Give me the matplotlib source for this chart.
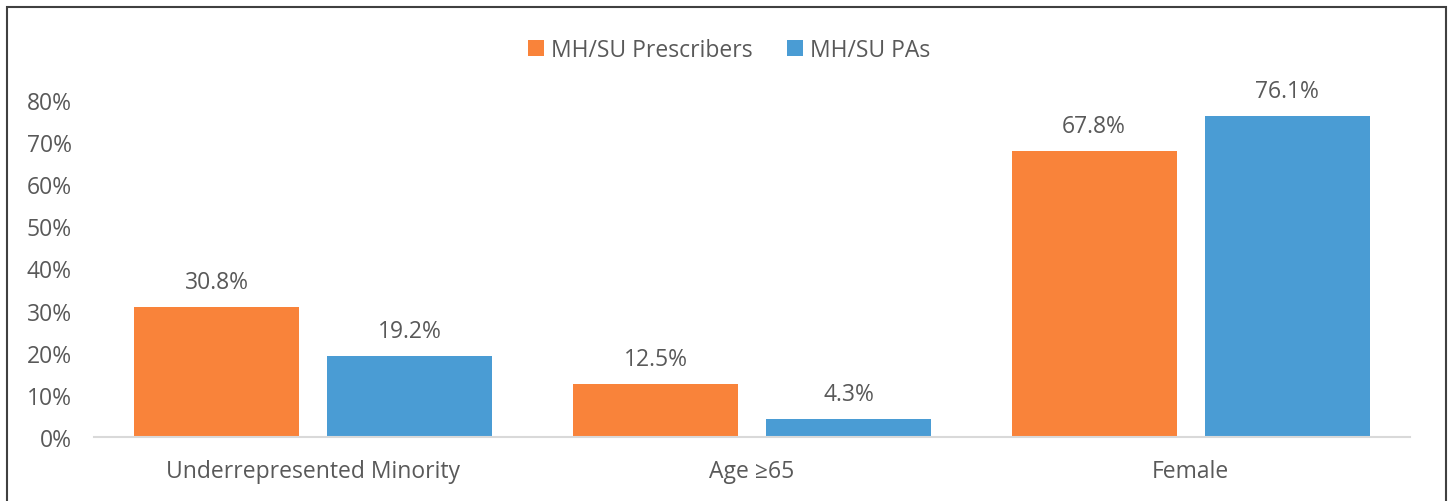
import matplotlib.pyplot as plt
import matplotlib.patches as patches
import numpy as np

categories = ["Underrepresented Minority", "Age \u226565", "Female"]
prescribers = [30.8, 12.5, 67.8]
pas = [19.2, 4.3, 76.1]
yticks = [0, 10, 20, 30, 40, 50, 60, 70, 80]

orange = "#F9833A"
blue = "#4A9CD4"
txt = "#595959"

plt.rcParams['font.family'] = ['Open Sans', 'DejaVu Sans']

fig = plt.figure(figsize=(14.5, 5.02), dpi=100)
ax = fig.add_axes([0.0648, 0.1275, 0.9076, 0.6715])

x = np.arange(len(categories))
w = 0.376
off = 0.22
b1 = ax.bar(x - off, prescribers, w, color=orange, label="MH/SU Prescribers")
b2 = ax.bar(x + off, pas, w, color=blue, label="MH/SU PAs")

for bars, vals in [(b1, prescribers), (b2, pas)]:
    for r, v in zip(bars, vals):
        ax.text(r.get_x() + r.get_width() / 2, v + 6.0, f"{v:.1f}%",
                ha="center", va="center", fontsize=16.5, color=txt)

ax.set_xlim(-0.5, 2.5)
ax.set_ylim(0, 80)
ax.set_yticks(yticks)
ax.set_yticklabels([f"{t}%" for t in yticks])
ax.set_xticks(x)
ax.set_xticklabels(categories)
ax.tick_params(axis="both", length=0, labelsize=16.5, colors=txt)
ax.tick_params(axis="y", pad=16)
ax.tick_params(axis="x", pad=16)
for s in ["top", "right", "left"]:
    ax.spines[s].set_visible(False)
ax.spines["bottom"].set_color("#D9D9D9")
ax.spines["bottom"].set_linewidth(1.5)

fig.legend(handles=[b1, b2], loc="center", bbox_to_anchor=(0.503, 0.898), ncol=2,
           frameon=False, fontsize=16.5, labelcolor=txt, handlelength=0.7,
           handleheight=0.7, handletextpad=0.3, columnspacing=1.5)

fig.patches.append(patches.Rectangle((7 / 1450, -0.05), 1439 / 1450, 1.05 - 8 / 502,
                                     transform=fig.transFigure, fill=False,
                                     edgecolor="#404040", linewidth=1.5))

fig.savefig("out.png", dpi=100)
